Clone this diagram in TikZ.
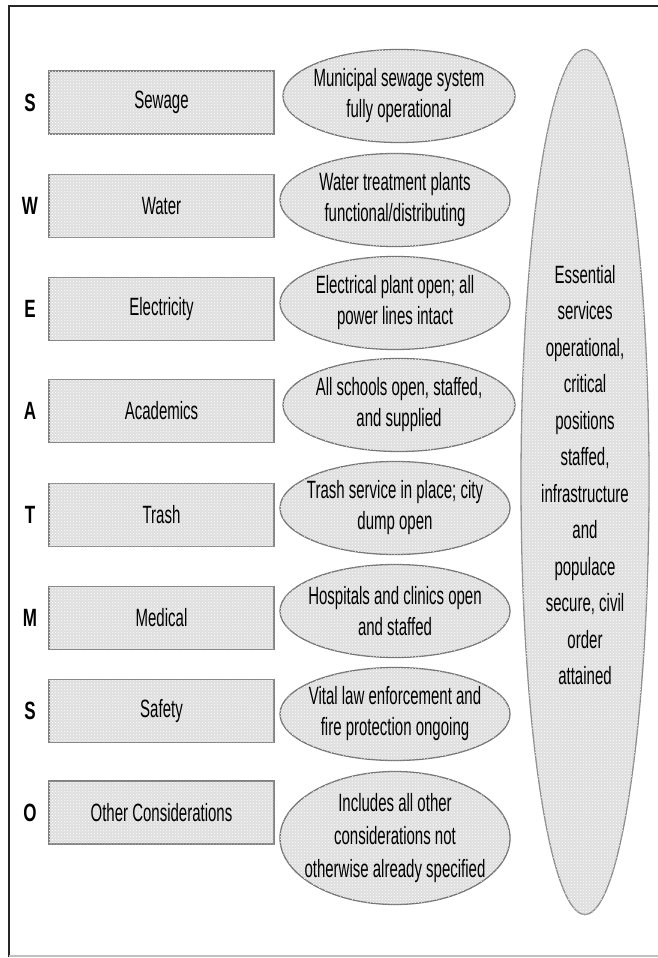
\documentclass[tikz,border=0pt]{standalone}
\usepackage{fontspec}
\newfontfamily\condsans[FakeStretch=0.6]{Liberation Sans}
\newfontfamily\condbold[FakeStretch=0.68]{Liberation Sans}
\usetikzlibrary{shapes.geometric,patterns}

\begin{document}
\begin{tikzpicture}[x=1pt,y=-1pt,
  halftone/.style={fill=black!13, postaction={pattern=crosshatch dots, pattern color=white}},
  lbl/.style={text=black, font=\condsans\fontsize{25}{31}\selectfont},
  area/.style={draw=black!50, line width=1.3pt, halftone, lbl,
    minimum width=225pt, minimum height=63pt, inner sep=0pt},
  goal/.style={ellipse, draw=black!55, line width=1.3pt, halftone,
    minimum width=230pt, minimum height=93pt, inner sep=0pt},
  goaltext/.style={lbl, align=center, inner sep=0pt},
  letter/.style={text=black, font=\condbold\bfseries\fontsize{25}{30}\selectfont, inner sep=0pt}
]
\useasboundingbox (0,0) rectangle (658,958);

% outer frame
\draw[black!85, line width=2pt] (9,957) -- (9,6) -- (658,6);
\draw[black!25, line width=1.5pt] (9,956) -- (658,956);

% SWEAT-MSO letters
\node[letter] (l1) at (30,102.5) {S};
\node[letter] (l2) at (30,206) {W};
\node[letter] (l3) at (30,309) {E};
\node[letter] (l4) at (30,411) {A};
\node[letter] (l5) at (30,515) {T};
\node[letter] (l6) at (30,618) {M};
\node[letter] (l7) at (30,711) {S};
\node[letter] (l8) at (30,812.5) {O};

% service areas
\node[area] (a1) at (161.5,102.5) {Sewage};
\node[area] (a2) at (161.5,206) {Water};
\node[area] (a3) at (161.5,309) {Electricity};
\node[area] (a4) at (161.5,411) {Academics};
\node[area] (a5) at (161.5,515) {Trash};
\node[area] (a6) at (161.5,618) {Medical};
\node[area] (a7) at (161.5,711) {Safety};
\node[area] (a8) at (161.5,812.5) {Other Considerations};

% end states per area
\node[goal, minimum width=232pt] (g1) at (399,96) {};
\node[goal] (g2) at (395,200) {};
\node[goal] (g3) at (395,303) {};
\node[goal, minimum width=232pt] (g4) at (399,405) {};
\node[goal] (g5) at (395,508) {};
\node[goal] (g6) at (395,611) {};
\node[goal] (g7) at (395,714) {};
\node[goal, minimum height=133pt] (g8) at (395,838) {};

\node[goaltext] (t1) at (g1) {Municipal sewage system\\fully operational};
\node[goaltext] (t2) at (g2) {Water treatment plants\\functional/distributing};
\node[goaltext] (t3) at (g3) {Electrical plant open; all\\power lines intact};
\node[goaltext] (t4) at (g4) {All schools open, staffed,\\and supplied};
\node[goaltext] (t5) at (g5) {Trash service in place; city\\dump open};
\node[goaltext] (t6) at (g6) {Hospitals and clinics open\\and staffed};
\node[goaltext] (t7) at (g7) {Vital law enforcement and\\fire protection ongoing};
\node[goaltext, font=\condsans\fontsize{25}{33}\selectfont] (t8) at (g8) {Includes all other\\considerations not\\otherwise already specified};

% overall end state
\node[goal, draw=black!45, minimum width=128pt, minimum height=865pt] (gall) at (585,482) {};
\node[goaltext, font=\condsans\fontsize{25}{36.5}\selectfont] (tall) at (585,475)
  {Essential\\services\\operational,\\critical\\positions\\staffed,\\infrastructure\\and\\populace\\secure, civil\\order\\attained};
\end{tikzpicture}
\end{document}
